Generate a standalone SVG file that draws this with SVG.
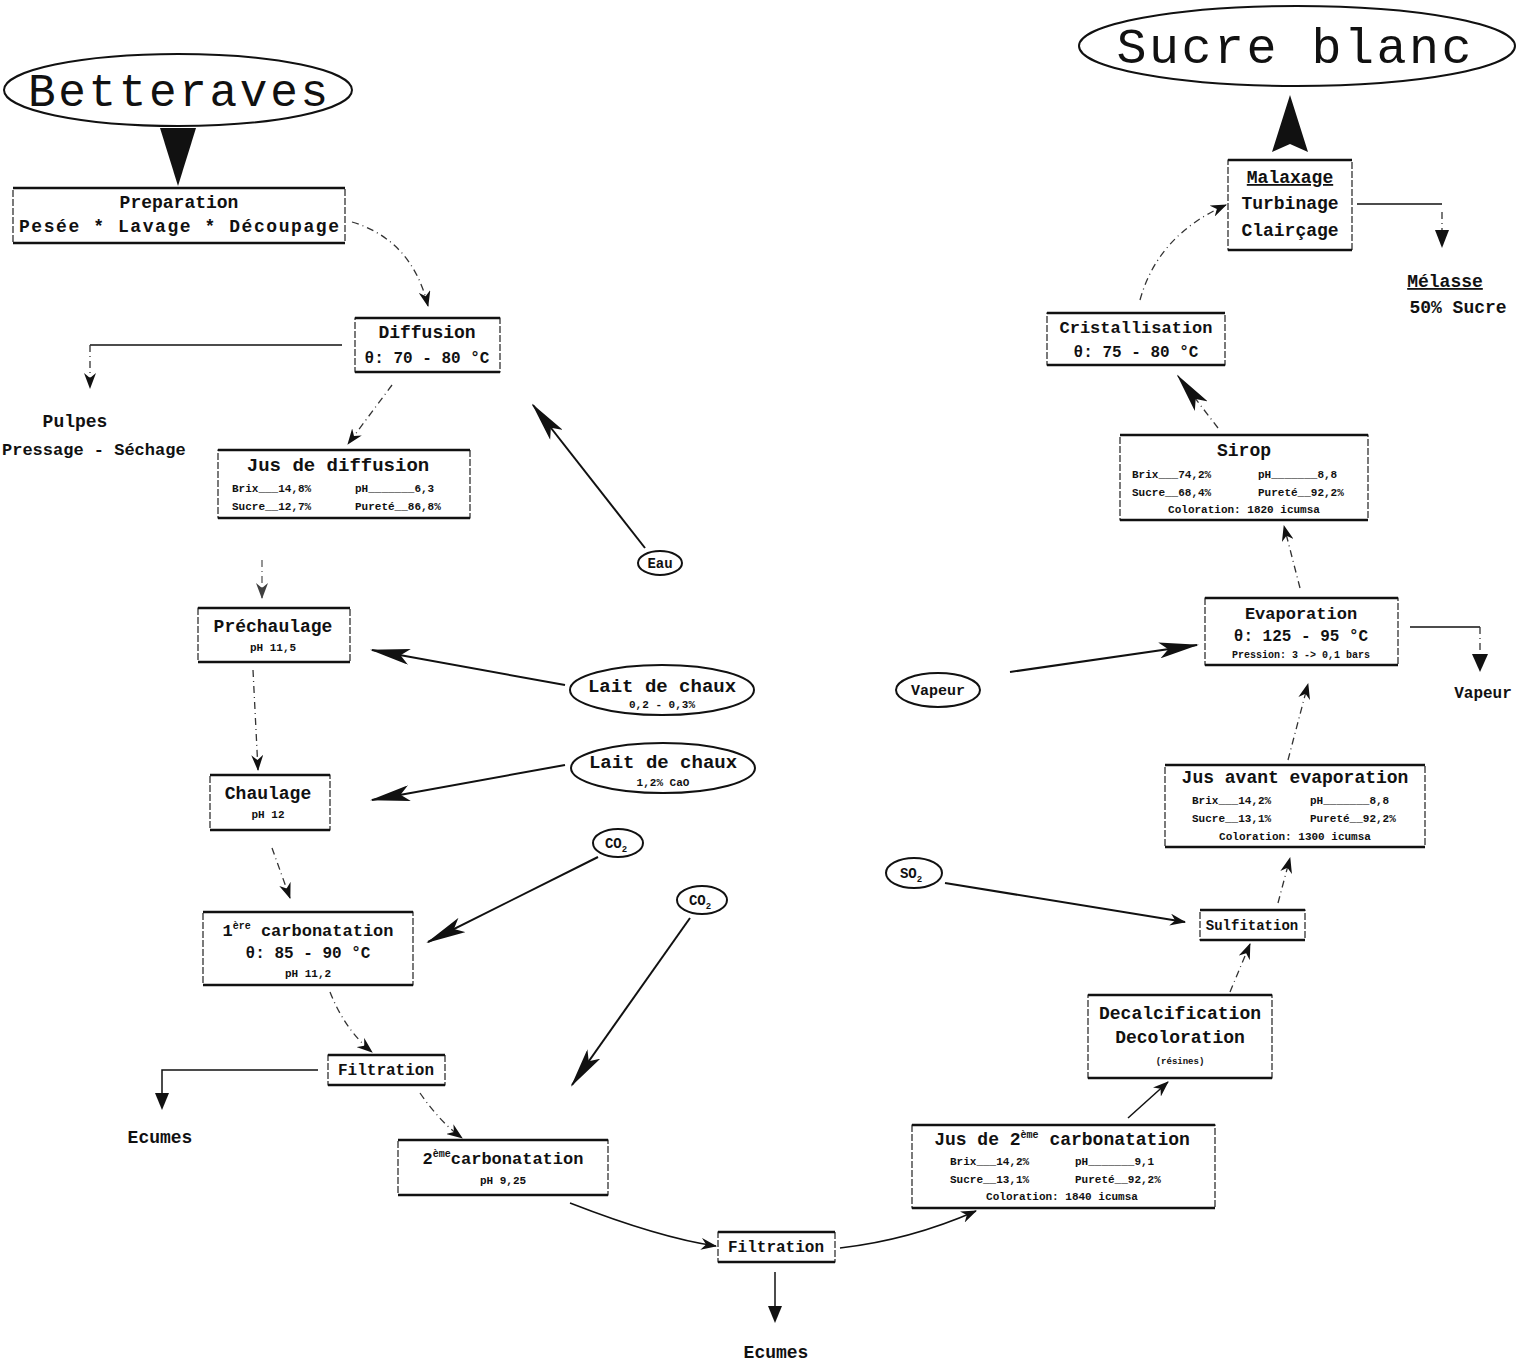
<svg xmlns="http://www.w3.org/2000/svg" width="1531" height="1370" viewBox="0 0 1531 1370">
<style>
text{font-family:"Liberation Mono","DejaVu Sans Mono",monospace;fill:#111}
.t{font-size:18px;font-weight:bold;text-anchor:middle}
.s{font-size:11px;font-weight:bold}
.sc{font-size:11px;font-weight:bold;text-anchor:middle}
.box{fill:#fff;stroke:#222;stroke-width:1.2;stroke-dasharray:7 2}
.edge{stroke:#111;stroke-width:2.6}
.ell{fill:#fff;stroke:#111;stroke-width:2}
.dash{fill:none;stroke:#333;stroke-width:1.3;stroke-dasharray:7 4 1 4}
.sol{fill:none;stroke:#111;stroke-width:2}
.thin{fill:none;stroke:#111;stroke-width:1.5}
</style>
<defs>
<marker id="arr" markerUnits="userSpaceOnUse" markerWidth="16" markerHeight="12" refX="15" refY="6" orient="auto"><path d="M0,0 L16,6 L0,12 L5,6 z" fill="#111"/></marker>
<marker id="big" markerUnits="userSpaceOnUse" markerWidth="40" markerHeight="16" refX="38" refY="8" orient="auto"><path d="M0,0 L40,8 L0,16 L9,8 z" fill="#111"/></marker>
</defs>

<g id="connectors">
<polygon points="160,128 196,128 178,186" fill="#111"/>
<polygon points="1290,95 1272,152 1290,144 1308,152" fill="#111"/>
<path class="dash" d="M352,222 Q412,240 428,306" marker-end="url(#arr)"/>
<path class="thin" d="M342,345 L90,345"/>
<path class="dash" d="M90,345 L90,388" marker-end="url(#arr)"/>
<path class="dash" d="M392,385 L348,444" marker-end="url(#arr)"/>
<path class="sol" d="M645,548 L533,405" marker-end="url(#big)"/>
<path class="dash" d="M262,560 L262,598" marker-end="url(#arr)" opacity="0.8"/>
<path class="sol" d="M565,685 L372,650" marker-end="url(#big)"/>
<path class="dash" d="M253,670 L258,770" marker-end="url(#arr)"/>
<path class="sol" d="M565,765 L372,800" marker-end="url(#big)"/>
<path class="dash" d="M272,848 L290,898" marker-end="url(#arr)"/>
<path class="sol" d="M598,857 L428,942" marker-end="url(#big)"/>
<path class="sol" d="M690,918 L572,1085" marker-end="url(#big)"/>
<path class="dash" d="M330,992 Q345,1030 372,1052" marker-end="url(#arr)"/>
<path class="thin" d="M318,1070 L162,1070 L162,1093"/>
<path d="M155,1093 L162,1110 L169,1093 z" fill="#111"/>
<path class="dash" d="M420,1093 Q440,1122 462,1138" marker-end="url(#arr)"/>
<path class="thin" d="M570,1203 Q660,1238 716,1246" marker-end="url(#arr)"/>
<path class="thin" d="M775,1272 L775,1320"/>
<path d="M768,1306 L775,1323 L782,1306 z" fill="#111"/>
<path class="thin" d="M840,1248 Q910,1240 976,1211" marker-end="url(#arr)"/>
<path class="thin" d="M1128,1118 L1168,1082" marker-end="url(#arr)"/>
<path class="dash" d="M1230,992 L1250,944" marker-end="url(#arr)"/>
<path class="sol" d="M945,883 L1185,922" marker-end="url(#arr)"/>
<path class="dash" d="M1278,903 L1290,858" marker-end="url(#arr)"/>
<path class="dash" d="M1288,760 L1308,684" marker-end="url(#arr)"/>
<path class="sol" d="M1010,672 L1197,645" marker-end="url(#big)"/>
<path class="thin" d="M1410,627 L1480,627"/>
<path class="dash" d="M1480,627 L1480,652"/>
<path d="M1472,654 L1480,672 L1488,654 z" fill="#111"/>
<path class="dash" d="M1300,588 L1284,526" marker-end="url(#arr)"/>
<path class="dash" d="M1218,428 L1178,376" marker-end="url(#big)"/>
<path class="dash" d="M1140,300 Q1158,235 1226,205" marker-end="url(#arr)"/>
<path class="thin" d="M1357,204 L1442,204"/>
<path class="dash" d="M1442,212 L1442,230"/>
<path d="M1435,230 L1442,248 L1449,230 z" fill="#111"/>
</g>

<g id="betteraves">
<ellipse class="ell" cx="178" cy="90" rx="174" ry="36" stroke-width="2.5"/>
<text x="178" y="106" font-size="46" text-anchor="middle" textLength="300">Betteraves</text>
</g>

<g id="preparation">
<rect class="box" x="13" y="188" width="332" height="55"/>
<line class="edge" x1="13" y1="188" x2="345" y2="188"/><line class="edge" x1="13" y1="243" x2="345" y2="243"/>
<text class="t" x="179" y="208">Preparation</text>
<text class="t" x="179" y="232" textLength="320">Pesée * Lavage * Découpage</text>
</g>

<g id="diffusion">
<rect class="box" x="355" y="318" width="145" height="54"/>
<line class="edge" x1="355" y1="318" x2="500" y2="318"/><line class="edge" x1="355" y1="372" x2="500" y2="372"/>
<text class="t" x="427" y="338">Diffusion</text>
<text class="t" x="427" y="363" style="font-size:16px">θ: 70 - 80 °C</text>
</g>

<g id="pulpes">
<text class="t" x="75" y="427">Pulpes</text>
<text x="2" y="455" font-size="17" font-weight="bold">Pressage - Séchage</text>
</g>

<g id="jus-diffusion">
<rect class="box" x="218" y="450" width="252" height="68"/>
<line class="edge" x1="218" y1="450" x2="470" y2="450"/><line class="edge" x1="218" y1="518" x2="470" y2="518"/>
<text class="t" x="338" y="471" style="font-size:19px">Jus de diffusion</text>
<text class="s" x="232" y="492">Brix___14,8%</text><text class="s" x="355" y="492">pH_______6,3</text>
<text class="s" x="232" y="510">Sucre__12,7%</text><text class="s" x="355" y="510">Pureté__86,8%</text>
</g>

<g id="eau">
<ellipse class="ell" cx="660" cy="563" rx="22" ry="12" stroke-width="1.5"/>
<text x="660" y="568" font-size="14" text-anchor="middle" font-weight="bold">Eau</text>
</g>

<g id="prechaulage">
<rect class="box" x="198" y="608" width="152" height="54"/>
<line class="edge" x1="198" y1="608" x2="350" y2="608"/><line class="edge" x1="198" y1="662" x2="350" y2="662"/>
<text class="t" x="273" y="632">Préchaulage</text>
<text class="sc" x="273" y="651">pH 11,5</text>
</g>

<g id="lait-chaux-1">
<ellipse class="ell" cx="662" cy="690" rx="92" ry="25"/>
<text class="t" x="662" y="692" style="font-size:19px">Lait de chaux</text>
<text class="sc" x="662" y="708">0,2 - 0,3%</text>
</g>

<g id="chaulage">
<rect class="box" x="210" y="775" width="120" height="55"/>
<line class="edge" x1="210" y1="775" x2="330" y2="775"/><line class="edge" x1="210" y1="830" x2="330" y2="830"/>
<text class="t" x="268" y="799">Chaulage</text>
<text class="sc" x="268" y="818">pH 12</text>
</g>

<g id="lait-chaux-2">
<ellipse class="ell" cx="663" cy="768" rx="92" ry="25"/>
<text class="t" x="663" y="768" style="font-size:19px">Lait de chaux</text>
<text class="sc" x="663" y="786">1,2% CaO</text>
</g>

<g id="co2-1">
<ellipse class="ell" cx="618" cy="843" rx="25" ry="14" stroke-width="1.5"/>
<text x="616" y="848" font-size="14" text-anchor="middle" font-weight="bold">CO<tspan font-size="9" dy="4">2</tspan></text>
</g>

<g id="co2-2">
<ellipse class="ell" cx="702" cy="900" rx="25" ry="14" stroke-width="1.5"/>
<text x="700" y="905" font-size="14" text-anchor="middle" font-weight="bold">CO<tspan font-size="9" dy="4">2</tspan></text>
</g>

<g id="carbonatation-1">
<rect class="box" x="203" y="912" width="210" height="73"/>
<line class="edge" x1="203" y1="912" x2="413" y2="912"/><line class="edge" x1="203" y1="985" x2="413" y2="985"/>
<text class="t" x="308" y="936" style="font-size:17px">1<tspan style="font-size:10px" dy="-7">ère</tspan><tspan dy="7"> carbonatation</tspan></text>
<text class="t" x="308" y="958" style="font-size:16px">θ: 85 - 90 °C</text>
<text class="sc" x="308" y="977">pH 11,2</text>
</g>

<g id="filtration-1">
<rect class="box" x="328" y="1055" width="117" height="30"/>
<line class="edge" x1="328" y1="1055" x2="445" y2="1055"/><line class="edge" x1="328" y1="1085" x2="445" y2="1085"/>
<text class="t" x="386" y="1075" style="font-size:16px">Filtration</text>
</g>

<g id="ecumes-1">
<text class="t" x="160" y="1143">Ecumes</text>
</g>

<g id="carbonatation-2">
<rect class="box" x="398" y="1140" width="210" height="55"/>
<line class="edge" x1="398" y1="1140" x2="608" y2="1140"/><line class="edge" x1="398" y1="1195" x2="608" y2="1195"/>
<text class="t" x="503" y="1164" style="font-size:17px">2<tspan style="font-size:10px" dy="-7">ème</tspan><tspan dy="7">carbonatation</tspan></text>
<text class="sc" x="503" y="1184">pH 9,25</text>
</g>

<g id="filtration-2">
<rect class="box" x="718" y="1232" width="117" height="30"/>
<line class="edge" x1="718" y1="1232" x2="835" y2="1232"/><line class="edge" x1="718" y1="1262" x2="835" y2="1262"/>
<text class="t" x="776" y="1252" style="font-size:16px">Filtration</text>
</g>

<g id="ecumes-2">
<text class="t" x="776" y="1358">Ecumes</text>
</g>

<g id="jus-2-carbonatation">
<rect class="box" x="912" y="1125" width="303" height="83"/>
<line class="edge" x1="912" y1="1125" x2="1215" y2="1125"/><line class="edge" x1="912" y1="1208" x2="1215" y2="1208"/>
<text class="t" x="1062" y="1145">Jus de 2<tspan style="font-size:10px" dy="-7">ème</tspan><tspan dy="7"> carbonatation</tspan></text>
<text class="s" x="950" y="1165">Brix___14,2%</text><text class="s" x="1075" y="1165">pH_______9,1</text>
<text class="s" x="950" y="1183">Sucre__13,1%</text><text class="s" x="1075" y="1183">Pureté__92,2%</text>
<text class="sc" x="1062" y="1200">Coloration: 1840 icumsa</text>
</g>

<g id="decalcification">
<rect class="box" x="1088" y="995" width="184" height="83"/>
<line class="edge" x1="1088" y1="995" x2="1272" y2="995"/><line class="edge" x1="1088" y1="1078" x2="1272" y2="1078"/>
<text class="t" x="1180" y="1019">Decalcification</text>
<text class="t" x="1180" y="1043">Decoloration</text>
<text class="sc" x="1180" y="1064" style="font-size:9px">(résines)</text>
</g>

<g id="sulfitation">
<rect class="box" x="1200" y="910" width="105" height="30"/>
<line class="edge" x1="1200" y1="910" x2="1305" y2="910"/><line class="edge" x1="1200" y1="940" x2="1305" y2="940"/>
<text class="t" x="1252" y="930" style="font-size:14px">Sulfitation</text>
</g>

<g id="so2">
<ellipse class="ell" cx="914" cy="873" rx="28" ry="15" stroke-width="1.5"/>
<text x="911" y="878" font-size="14" text-anchor="middle" font-weight="bold">SO<tspan font-size="9" dy="4">2</tspan></text>
</g>

<g id="jus-avant-evaporation">
<rect class="box" x="1165" y="765" width="260" height="82"/>
<line class="edge" x1="1165" y1="765" x2="1425" y2="765"/><line class="edge" x1="1165" y1="847" x2="1425" y2="847"/>
<text class="t" x="1295" y="783">Jus avant evaporation</text>
<text class="s" x="1192" y="804">Brix___14,2%</text><text class="s" x="1310" y="804">pH_______8,8</text>
<text class="s" x="1192" y="822">Sucre__13,1%</text><text class="s" x="1310" y="822">Pureté__92,2%</text>
<text class="sc" x="1295" y="840">Coloration: 1300 icumsa</text>
</g>

<g id="evaporation">
<rect class="box" x="1205" y="598" width="193" height="67"/>
<line class="edge" x1="1205" y1="598" x2="1398" y2="598"/><line class="edge" x1="1205" y1="665" x2="1398" y2="665"/>
<text class="t" x="1301" y="619" style="font-size:17px">Evaporation</text>
<text class="t" x="1301" y="641" style="font-size:16px">θ: 125 - 95 °C</text>
<text class="sc" x="1301" y="658" style="font-size:10px">Pression: 3 -&gt; 0,1 bars</text>
</g>

<g id="vapeur-in">
<ellipse class="ell" cx="938" cy="690" rx="42" ry="17" stroke-width="1.5"/>
<text x="938" y="695" font-size="15" text-anchor="middle" font-weight="bold">Vapeur</text>
</g>

<g id="vapeur-out">
<text class="t" x="1483" y="698" style="font-size:16px">Vapeur</text>
</g>

<g id="sirop">
<rect class="box" x="1120" y="435" width="248" height="85"/>
<line class="edge" x1="1120" y1="435" x2="1368" y2="435"/><line class="edge" x1="1120" y1="520" x2="1368" y2="520"/>
<text class="t" x="1244" y="456">Sirop</text>
<text class="s" x="1132" y="478">Brix___74,2%</text><text class="s" x="1258" y="478">pH_______8,8</text>
<text class="s" x="1132" y="496">Sucre__68,4%</text><text class="s" x="1258" y="496">Pureté__92,2%</text>
<text class="sc" x="1244" y="513">Coloration: 1820 icumsa</text>
</g>

<g id="cristallisation">
<rect class="box" x="1047" y="313" width="178" height="52"/>
<line class="edge" x1="1047" y1="313" x2="1225" y2="313"/><line class="edge" x1="1047" y1="365" x2="1225" y2="365"/>
<text class="t" x="1136" y="333" style="font-size:17px">Cristallisation</text>
<text class="t" x="1136" y="357" style="font-size:16px">θ: 75 - 80 °C</text>
</g>

<g id="malaxage">
<rect class="box" x="1228" y="160" width="124" height="90"/>
<line class="edge" x1="1228" y1="160" x2="1352" y2="160"/><line class="edge" x1="1228" y1="250" x2="1352" y2="250"/>
<text class="t" x="1290" y="183" text-decoration="underline">Malaxage</text>
<text class="t" x="1290" y="209">Turbinage</text>
<text class="t" x="1290" y="236">Clairçage</text>
</g>

<g id="melasse">
<text class="t" x="1445" y="287" text-decoration="underline">Mélasse</text>
<text class="t" x="1458" y="313">50% Sucre</text>
</g>

<g id="sucre-blanc">
<ellipse class="ell" cx="1297" cy="46" rx="218" ry="40" stroke-width="2.5"/>
<text x="1294" y="63" font-size="50" text-anchor="middle" textLength="355">Sucre blanc</text>
</g>
</svg>
